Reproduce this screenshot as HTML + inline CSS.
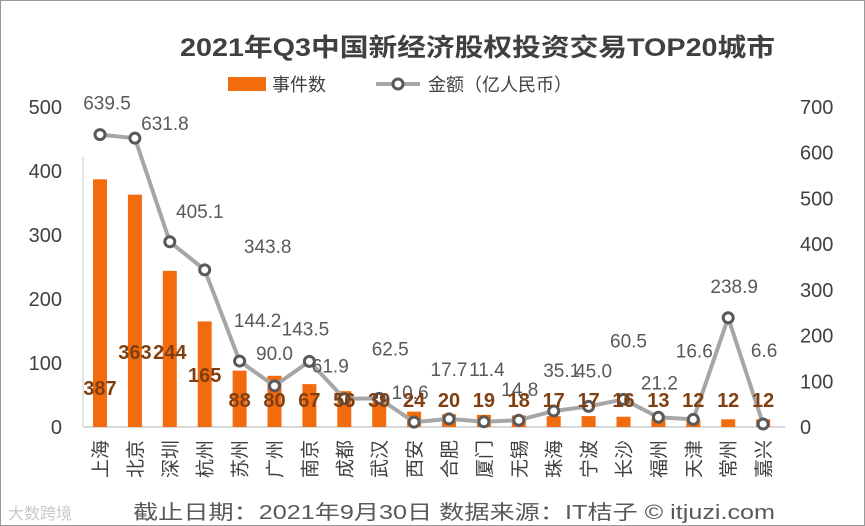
<!DOCTYPE html>
<html><head><meta charset="utf-8"><style>
body{margin:0;background:#fff;}
svg{display:block;font-family:"Liberation Sans","Noto Sans CJK SC",sans-serif;}
</style></head><body>
<svg id="c" width="865" height="526" viewBox="0 0 865 526">
<rect x="0.5" y="0.5" width="864" height="525" fill="#fff" stroke="#999"/>
<text x="180" y="56" font-size="25" font-weight="bold" fill="#404040" textLength="595" lengthAdjust="spacingAndGlyphs">2021年Q3中国新经济股权投资交易TOP20城市</text>
<g>
<rect x="228" y="77" width="38" height="14" fill="#f26b0d"/>
<text x="272" y="91" font-size="18" fill="#404040">事件数</text>
<line x1="376" y1="84" x2="420" y2="84" stroke="#a6a6a6" stroke-width="4"/>
<circle cx="398" cy="84" r="5" fill="#fff" stroke="#595959" stroke-width="3"/>
<text x="428" y="91" font-size="18" fill="#404040">金额（亿人民币）</text>
</g>
<g id="g"></g>
<text x="133" y="519" font-size="20" fill="#595959" textLength="642" lengthAdjust="spacingAndGlyphs">截止日期：2021年9月30日    数据来源：IT桔子 © itjuzi.com</text>
<text x="8" y="519" font-size="16" fill="#c8c8c8">大数跨境</text>
</svg>
<script>
const categories=["上海","北京","深圳","杭州","苏州","广州","南京","成都","武汉","西安","合肥","厦门","无锡","珠海","宁波","长沙","福州","天津","常州","嘉兴"];
const events=[387,363,244,165,88,80,67,56,39,24,20,19,18,17,17,16,13,12,12,12];
const amounts=[639.5,631.8,405.1,343.8,144.2,90.0,143.5,61.9,62.5,10.6,17.7,11.4,14.8,35.1,45.0,60.5,21.2,16.6,238.9,6.6];
const leftTicks=[0,100,200,300,400,500];
const rightTicks=[0,100,200,300,400,500,600,700];
const labOffX=[7,30,30,63,18,0,-4,-14,11,-4,0,3,1,8,5,5,1,1,6,1];
const labOffY=[-32,-15,-31,-24,-41,-33,-33,-33,-50,-30,-50,-53,-31,-41,-36,-59,-35,-69,-32,-74];
const NS="http://www.w3.org/2000/svg";
const g=document.getElementById('g');
const x0=100,dx=34.9,base=427,yTop=107;
const xs=i=>x0+i*dx;
const yL=v=>base-(v/500)*(base-yTop);
const yR=v=>base-(v/700)*(base-yTop);
function mk(t,a,txt){const e=document.createElementNS(NS,t);for(const k in a)e.setAttribute(k,a[k]);if(txt!=null)e.textContent=txt;g.appendChild(e);return e;}
let e=mk('line',{x1:83,y1:base,x2:785,y2:base,stroke:'#d9d9d9','stroke-width':2});


e=mk('line',{x1:83,y1:yTop+50,x2:83,y2:base,stroke:'#d9d9d9','stroke-width':1.5});


leftTicks.forEach(v=>{const t=mk('text',{x:62,y:yL(v)+7,'text-anchor':'end','font-size':20,fill:'#404040'},v);

});
rightTicks.forEach(v=>{const t=mk('text',{x:800,y:yR(v)+7,'font-size':20,fill:'#404040'},v);

});
events.forEach((v,i)=>{const b=mk('rect',{x:xs(i)-7,y:yL(v),width:14,height:base-yL(v),fill:'#f26b0d'});

});
const pts=amounts.map((v,i)=>xs(i)+','+yR(v)).join(' ');
e=mk('polyline',{points:pts,fill:'none',stroke:'#a6a6a6','stroke-width':4,'stroke-linejoin':'round'});


amounts.forEach((v,i)=>{const c=mk('circle',{cx:xs(i),cy:yR(v),r:5,fill:'#fff',stroke:'#595959','stroke-width':3});


const t=mk('text',{x:xs(i)+labOffX[i],y:yR(v)+labOffY[i]+7,'text-anchor':'middle','font-size':19,fill:'#595959'},v.toFixed(1));

});
events.forEach((v,i)=>{let y=v>=200?352:(v>=150?375:400);if(i===0)y=388;
const t=mk('text',{x:xs(i),y:y+7,'text-anchor':'middle','font-size':20,'font-weight':'bold',fill:'#7f3f10'},v);

});
categories.forEach((c,i)=>{const x=xs(i);const t=mk('text',{x:x,y:440,'text-anchor':'end','font-size':19,fill:'#404040',transform:'rotate(-90 '+x+' 440) translate(0 7)'},c);

});
</script>
</body></html>
